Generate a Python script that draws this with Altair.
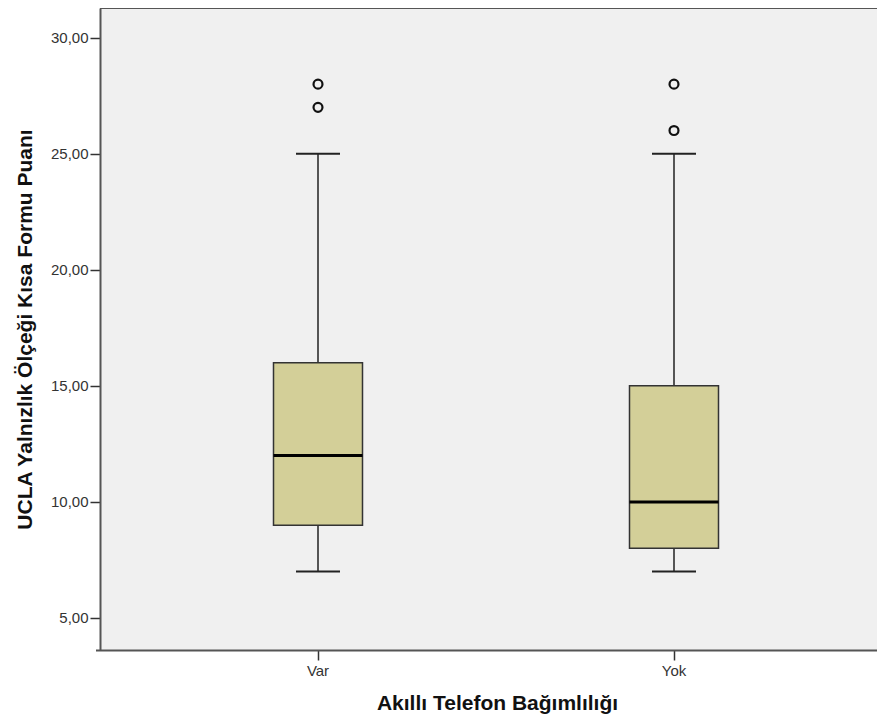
import altair as alt
import pandas as pd

groups = ["Var", "Yok"]
mins = [7, 7]
q1s = [9, 8]
medians = [12, 10]
q3s = [16, 15]
maxs = [25, 25]
outlier_groups = ["Var", "Var", "Yok", "Yok"]
outlier_values = [27, 28, 26, 28]

Y_MIN, Y_MAX = 3.62, 31.28

box_df = pd.DataFrame({"grp": groups, "lo": mins, "q1": q1s, "med": medians,
                       "q3": q3s, "hi": maxs})
out_df = pd.DataFrame({"grp": outlier_groups, "val": outlier_values})

FONT = "Liberation Sans"
xscale = alt.Scale(domain=groups, paddingInner=0.75, paddingOuter=0.5,
                   range=[-4.5, 796.5])
yscale = alt.Scale(domain=[Y_MIN, Y_MAX], nice=False, zero=False)

x_enc = alt.X("grp:N", scale=xscale, sort=groups,
              axis=alt.Axis(title="Akıllı Telefon Bağımlılığı", labelAngle=0,
                            labelFontSize=15, labelColor="#333", labelFont=FONT,
                            tickSize=10, tickColor="#333", tickWidth=1.5,
                            domain=True, domainColor="#555", domainWidth=2,
                            titleFontSize=21, titleFont=FONT, titleFontWeight="bold",
                            titleColor="#111", titlePadding=14, titleX=397,
                            labelPadding=3))

base = alt.Chart(box_df)

whisker = base.mark_rule(color="#222", strokeWidth=1.5).encode(
    x=x_enc,
    y=alt.Y("lo:Q", scale=yscale,
            axis=alt.Axis(title="UCLA Yalnızlık Ölçeği Kısa Formu Puanı",
                          values=[5, 10, 15, 20, 25, 30],
                          labelExpr="replace(format(datum.value, '.2f'), '.', ',')",
                          labelFontSize=15, labelColor="#333", labelFont=FONT,
                          tickSize=10, tickColor="#333", tickWidth=1.5, grid=False,
                          domain=True, domainColor="#555", domainWidth=2,
                          titleFontSize=21, titleFont=FONT,
                          titleFontWeight="bold", titleColor="#111",
                          titlePadding=15, labelPadding=2)),
    y2="hi:Q",
)

top_border = alt.Chart(pd.DataFrame({"v": [Y_MAX]})).mark_rule(
    color="#555", strokeWidth=2).encode(y=alt.Y("v:Q", scale=yscale))

caps_lo = base.mark_tick(size=44, thickness=2, color="#222", opacity=1).encode(
    x=alt.X("grp:N", scale=xscale, sort=groups), y=alt.Y("lo:Q", scale=yscale))
caps_hi = base.mark_tick(size=44, thickness=2, color="#222", opacity=1).encode(
    x=alt.X("grp:N", scale=xscale, sort=groups), y=alt.Y("hi:Q", scale=yscale))

box = base.mark_bar(color="#D3CF98", stroke="#333", strokeWidth=1.5, opacity=1).encode(
    x=alt.X("grp:N", scale=xscale, sort=groups),
    y=alt.Y("q1:Q", scale=yscale),
    y2="q3:Q",
)

median = base.mark_tick(size=89, thickness=3, color="#000", opacity=1).encode(
    x=alt.X("grp:N", scale=xscale, sort=groups), y=alt.Y("med:Q", scale=yscale))

outliers = alt.Chart(out_df).mark_point(shape="circle", filled=False, size=80,
                                         strokeWidth=2.2, color="#111", opacity=1).encode(
    x=alt.X("grp:N", scale=xscale, sort=groups),
    y=alt.Y("val:Q", scale=yscale),
)

chart = alt.layer(whisker, caps_lo, caps_hi, box, median, outliers, top_border).properties(
    width=777, height=642,
    autosize=alt.AutoSizeParams(type="none"),
    padding={"left": 92, "top": 0, "right": 0, "bottom": 66},
    background="white",
).configure_view(
    fill="#F0F0F0", stroke=None
)

chart.save("out.html", embed_options={"renderer": "svg", "actions": False})
